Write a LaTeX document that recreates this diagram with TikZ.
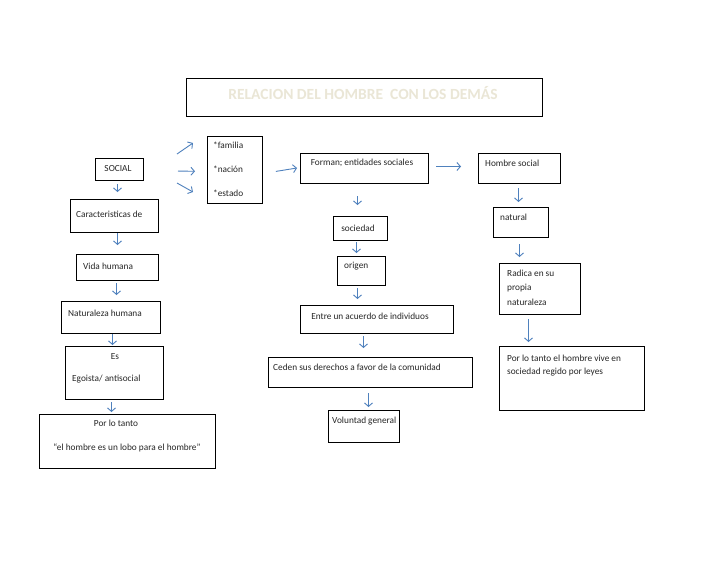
\documentclass[tikz,border=0pt]{standalone}
\usepackage{fontspec}
\setmainfont{Carlito}
\usetikzlibrary{arrows.meta}
\definecolor{arrblue}{HTML}{4F81BD}
\definecolor{titlecol}{HTML}{EAE6D6}
\tikzset{
  box/.style={draw=black, line width=1pt, inner sep=0pt, anchor=north west},
  txt/.style={inner sep=0pt, font=\fontsize{9.3}{11}\selectfont, text=black!85},
  lt/.style={txt, anchor=west},
  arr/.style={draw=arrblue, line width=0.9pt, -{Straight Barb[length=3.5pt,width=8pt]}},
}
\begin{document}
\begin{tikzpicture}[x=1pt,y=-1pt]
\useasboundingbox[fill=white] (0,0) rectangle (728,563);
% boxes
\node[box, minimum width=356pt, minimum height=38pt] (title) at (186,78) {};
\node[box, minimum width=48pt, minimum height=22pt] (soc) at (95,158) {};
\node[box, minimum width=55pt, minimum height=67pt] (fam) at (207,136) {};
\node[box, minimum width=128pt, minimum height=30pt] (forman) at (300,153) {};
\node[box, minimum width=82pt, minimum height=30pt] (hombre) at (478,153) {};
\node[box, minimum width=55pt, minimum height=30pt] (natural) at (493,207) {};
\node[box, minimum width=88pt, minimum height=33pt] (car) at (70,199) {};
\node[box, minimum width=82pt, minimum height=26pt] (vida) at (76,254) {};
\node[box, minimum width=99pt, minimum height=32pt] (natu) at (61,301) {};
\node[box, minimum width=98pt, minimum height=53pt] (es) at (65,346) {};
\node[box, minimum width=176pt, minimum height=54pt] (por1) at (39,414) {};
\node[box, minimum width=54pt, minimum height=24pt] (socd) at (333,216) {};
\node[box, minimum width=48pt, minimum height=29pt] (origen) at (337,256) {};
\node[box, minimum width=153pt, minimum height=28pt] (entre) at (300,305) {};
\node[box, minimum width=204pt, minimum height=30pt] (ceden) at (268,357) {};
\node[box, minimum width=71pt, minimum height=32pt] (vol) at (328,410) {};
\node[box, minimum width=81pt, minimum height=51pt] (radica) at (499,263) {};
\node[box, minimum width=145pt, minimum height=64pt] (por2) at (499,346) {};
% texts
\node[inner sep=0pt, font=\fontsize{15.5}{17}\selectfont\bfseries, text=titlecol] (ttitle) at (363,93) {RELACION DEL HOMBRE\ \ CON LOS DEMÁS};
\node[txt] (tsoc) at (118,169) {SOCIAL};
\node[lt] (tfam1) at (213,145) {*familia};
\node[lt] (tfam2) at (213,169) {*nación};
\node[lt] (tfam3) at (213,193) {*estado};
\node[txt] (tforman) at (362,163) {Forman; entidades sociales};
\node[lt] (thombre) at (485,163) {Hombre social};
\node[lt] (tnatural) at (500,217) {natural};
\node[lt] (tcar) at (76,214) {Caracteristicas de};
\node[lt] (tvida) at (83,266) {Vida humana};
\node[lt] (tnatu) at (68,313) {Naturaleza humana};
\node[txt] (tes) at (115,357) {Es};
\node[lt] (tego) at (72,379) {Egoista/ antisocial};
\node[txt] (tpor1a) at (116,423) {Por lo tanto};
\node[txt] (tpor1b) at (127,448) {“el hombre es un lobo para el hombre”};
\node[txt] (tsocd) at (358,228) {sociedad};
\node[lt] (torigen) at (344,266) {origen};
\node[txt] (tentre) at (370,316) {Entre un acuerdo de individuos};
\node[lt] (tceden) at (273,367) {Ceden sus derechos a favor de la comunidad};
\node[lt] (tvol) at (332,421) {Voluntad general};
\node[lt] (trad1) at (507,273) {Radica en su};
\node[lt] (trad2) at (507,288) {propia};
\node[lt] (trad3) at (507,302) {naturaleza};
\node[lt] (tpor2a) at (507,358) {Por lo tanto el hombre vive en};
\node[lt] (tpor2b) at (507,372) {sociedad regido por leyes};
% free arrow ends
\coordinate (a1s) at (177,154);
\coordinate (a1e) at (193,143);
\coordinate (a3s) at (177,183);
\coordinate (a3e) at (193,192);
% arrows
\draw[arr] ([xshift=-2pt,yshift=-3pt]soc.south) -- ([xshift=3pt,yshift=7pt]car.north);
\draw[arr] (a1s) -- (a1e);
\draw[arr, shorten <=34pt, shorten >=12pt] ([yshift=-1pt]soc.east) -- ([yshift=-1.5pt]fam.west);
\draw[arr] (a3s) -- (a3e);
\draw[arr] ([xshift=3pt,yshift=0pt]car.south) -- ([xshift=0pt,yshift=9pt]vida.north);
\draw[arr] ([xshift=-1pt,yshift=-2pt]vida.south) -- ([xshift=5.5pt,yshift=6pt]natu.north);
\draw[arr] ([xshift=1.5pt,yshift=0pt]natu.south) -- ([xshift=-2pt,yshift=1pt]es.north);
\draw[arr] ([xshift=-3pt,yshift=-2pt]es.south) -- ([xshift=-16pt,yshift=2pt]por1.north);
\draw[arr, shorten <=13pt, shorten >=3pt] ([yshift=-3.5pt]fam.east) -- ([yshift=1pt]forman.west);
\draw[arr] ([xshift=-7pt,yshift=-12pt]forman.south) -- ([xshift=-3pt,yshift=11pt]socd.north);
\draw[arr] ([xshift=-4pt,yshift=-1pt]socd.south) -- ([xshift=-5pt,yshift=3pt]origen.north);
\draw[arr] ([xshift=-4pt,yshift=-2pt]origen.south) -- ([xshift=-19.5pt,yshift=6pt]entre.north);
\draw[arr] ([xshift=-13.5pt,yshift=-2pt]entre.south) -- ([xshift=-7pt,yshift=9pt]ceden.north);
\draw[arr] ([xshift=-2pt,yshift=-5pt]ceden.south) -- ([xshift=4.5pt,yshift=3pt]vol.north);
\draw[arr, shorten <=7pt, shorten >=17pt] ([yshift=2pt]forman.east) -- ([yshift=2pt]hombre.west);
\draw[arr] ([xshift=-1pt,yshift=-4pt]hombre.south) -- ([xshift=-2.5pt,yshift=5pt]natural.north);
\draw[arr] ([xshift=-1.5pt,yshift=-6pt]natural.south) -- ([xshift=-20.5pt,yshift=6pt]radica.north);
\draw[arr] ([xshift=-11.5pt,yshift=-4pt]radica.south) -- ([xshift=-43.5pt,yshift=4pt]por2.north);
\end{tikzpicture}
\end{document}
